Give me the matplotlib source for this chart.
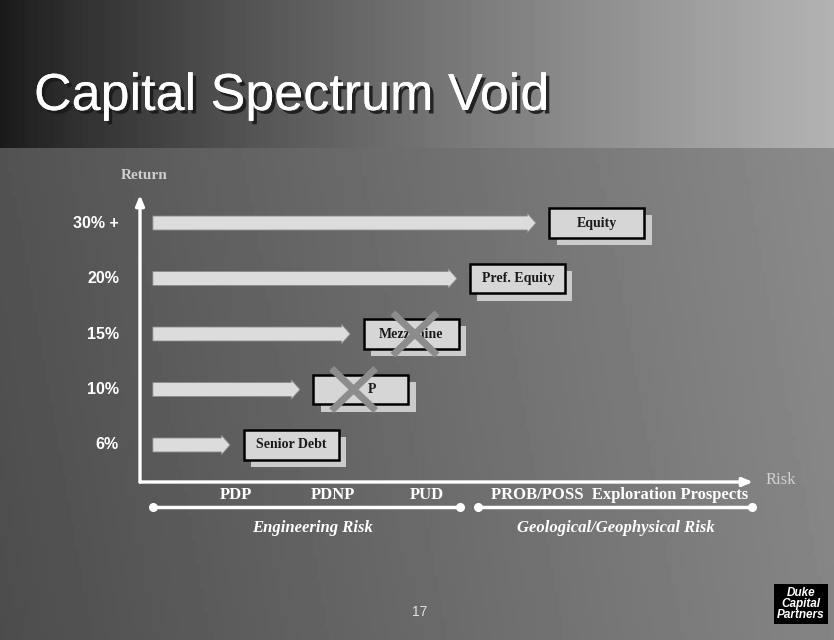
import matplotlib.pyplot as plt
import matplotlib.patheffects as pe
import numpy as np
from matplotlib.patches import Rectangle
from matplotlib.transforms import blended_transform_factory

# Datos del gráfico
rendimientos = ['6%', '10%', '15%', '20%', '30% +']
instrumentos = ['Senior Debt', 'P', 'Mezzanine', 'Pref. Equity', 'Equity']
fin_flecha = [14.7, 26.1, 34.3, 51.7, 64.6]      # riesgo donde termina cada flecha
tachado = [False, True, True, False, False]       # instrumentos con "X" (vacío)
categorias = ['PDP', 'PDNP', 'PUD', 'PROB/POSS  Exploration Prospects']
pos_categorias = [15.7, 31.5, 46.8, 78.2]
tramos = [(2.1, 52.2), (55.1, 99.8)]
tipos_riesgo = ['Engineering Risk', 'Geological/Geophysical Risk']
pos_tipos = [28.2, 77.7]

W, H = 834, 640
fig = plt.figure(figsize=(W / 100, H / 100), dpi=100)

# Fondo gris tipo diapositiva
bg = fig.add_axes([0, 0, 1, 1])
xx, yy = np.meshgrid(np.linspace(0, 1, 200), np.linspace(0, 1, 160))
fondo = 0.33 + 0.22 * xx - 0.03 * yy
banda = yy < 145 / 640
fondo[banda] = (0.10 + 0.60 * xx ** 0.8)[banda]
bg.imshow(fondo, cmap='gray', vmin=0, vmax=1, aspect='auto', extent=[0, 1, 1, 0])
bg.set_xlim(0, 1)
bg.set_ylim(1, 0)
bg.axis('off')

# Título con sombra
fig.text(34 / W, 1 - 110 / H, 'Capital Spectrum Void', fontsize=37.5,
         color='white', family='Liberation Sans',
         path_effects=[pe.withSimplePatchShadow(offset=(2.5, -2.5),
                                                shadow_rgbFace='#1a1a1a', alpha=0.9),
                       pe.Normal()])

# Ejes del gráfico
ax = fig.add_axes([140 / W, 1 - 482 / H, 613 / W, 287 / H])
ax.set_xlim(0, 100)
ax.set_ylim(-0.667, 4.505)
ax.axis('off')
filas = np.arange(len(rendimientos))
y0, x1, y1 = -0.667, 100, 4.505

ax.annotate('', xy=(0, y1), xytext=(0, y0), annotation_clip=False,
            arrowprops=dict(arrowstyle='-|>,head_width=0.25,head_length=0.6',
                            color='white', lw=2.4, shrinkA=0, shrinkB=0))
ax.annotate('', xy=(x1, y0), xytext=(0, y0), annotation_clip=False,
            arrowprops=dict(arrowstyle='-|>,head_width=0.25,head_length=0.6',
                            color='white', lw=2.4, shrinkA=0, shrinkB=0))
ax.text(-3.1, 4.85, 'Return', color='#cfcfcf', family='Liberation Serif',
        fontsize=11, fontweight='bold', va='center', ha='left')
ax.text(102.0, -0.63, 'Risk', color='#d0d0d0', family='Liberation Serif',
        fontsize=12, va='center', ha='left')

# Etiquetas de rendimiento
tr = blended_transform_factory(ax.transAxes, ax.transData)
for y, lab in zip(filas, rendimientos):
    ax.text(-21 / 613, y, lab, transform=tr, ha='right', va='center', color='white',
            fontsize=11.5, fontweight='bold', family='Liberation Sans')

# Flechas y cajas de instrumentos
ancho_caja = 15.5
alto_caja = 0.54
sep = 2.2
for y, fin, nombre, x_out in zip(filas, fin_flecha, instrumentos, tachado):
    ax.annotate('', xy=(fin, y), xytext=(2.1, y),
                arrowprops=dict(arrowstyle='simple,head_width=1.0,head_length=0.45,tail_width=0.72',
                                fc='#dcdcdc', ec='#8a8a8a', lw=0.6, mutation_scale=14,
                                shrinkA=0, shrinkB=0))
    x0 = fin + sep
    ax.add_patch(Rectangle((x0 + 1.15, y - alto_caja / 2 - 0.13), ancho_caja, alto_caja,
                           fc='#cbcbcb', ec='none', zorder=3))
    ax.add_patch(Rectangle((x0, y - alto_caja / 2), ancho_caja, alto_caja,
                           fc='#d6d6d6', ec='black', lw=1.8, zorder=4))
    cx = x0 + ancho_caja / 2
    if x_out:
        # el texto queda parcialmente tapado por la X
        corto = len(nombre) < 3
        xt = cx + 1.8 if corto else cx
        ax.text(xt, y, nombre, ha='center', va='center', zorder=7 if corto else 5,
                family='Liberation Serif', fontweight='bold', fontsize=10, color='#1a1a1a')
        xc = cx + (-1.2 if corto else 0.6)
        for s in (1, -1):
            ax.plot([xc - 3.6, xc + 3.6], [y + s * 0.38, y - s * 0.38], color='#8c8c8c',
                    lw=5, zorder=6, solid_capstyle='butt')
    else:
        ax.text(cx, y, nombre, ha='center', va='center', zorder=5,
                family='Liberation Serif', fontweight='bold', fontsize=10, color='#1a1a1a')

# Categorías de riesgo bajo el eje
for x, lab in zip(pos_categorias, categorias):
    ax.text(x, -0.90, lab, ha='center', va='center', color='white',
            family='Liberation Serif', fontweight='bold', fontsize=12)
for a, b in tramos:
    ax.plot([a, b], [-1.117, -1.117], color='white', lw=2.5, clip_on=False,
            marker='o', markevery=[0, 1], markersize=5.5)
for x, lab in zip(pos_tipos, tipos_riesgo):
    ax.text(x, -1.495, lab, ha='center', va='center', color='white',
            family='Liberation Serif', fontweight='bold', fontstyle='italic',
            fontsize=12)

# Pie de página
fig.text(420 / W, 1 - 612 / H, '17', color='#e0e0e0', fontsize=10,
         ha='center', va='center', family='Liberation Sans')
fig.text(801 / W, 1 - 604 / H, 'Duke\nCapital\nPartners', color='white',
         fontsize=8.5, fontweight='bold', fontstyle='italic', ha='center', va='center',
         family='Liberation Sans', linespacing=0.85,
         bbox=dict(boxstyle='square,pad=0.3', fc='black', ec='none'))

fig.savefig('out.png', dpi=100)
